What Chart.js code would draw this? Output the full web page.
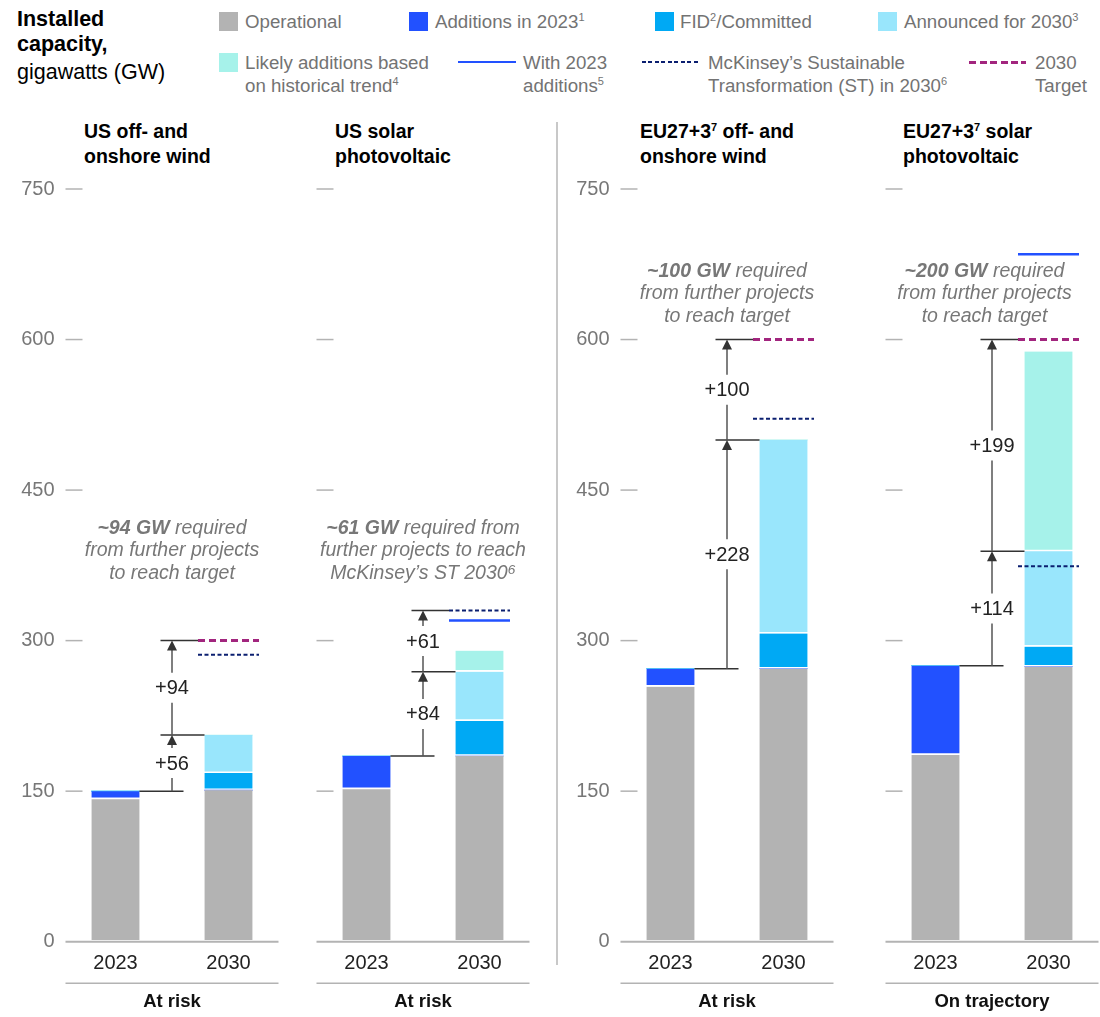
<!DOCTYPE html>
<html>
<head>
<meta charset="utf-8">
<script src="https://cdn.jsdelivr.net/npm/chart.js@4.4.1/dist/chart.umd.min.js"></script>
<style>
  html, body { margin: 0; padding: 0; background: #fff; overflow: hidden; }
  body { width: 1100px; height: 1017px; position: relative; font-family: "Liberation Sans", Arial, sans-serif; }
  .abs { position: absolute; white-space: nowrap; }
  .head { left: 17px; font-size: 21.5px; line-height: 26px; color: #000; }
  .lg { font-size: 18.7px; line-height: 23px; color: #737373; }
  .sw { position: absolute; width: 19px; height: 19px; }
  .ptitle { font-size: 19.5px; font-weight: bold; line-height: 25px; color: #000; }
  sup { font-size: 11px; vertical-align: 7px; line-height: 0; }
  canvas { position: absolute; top: 170px; }
  #sep { position: absolute; left: 556px; top: 122px; width: 2px; height: 843px; background: #c8c8c8; }
</style>
</head>
<body>
<div class="abs head" style="top:6px"><b>Installed</b></div>
<div class="abs head" style="top:31px"><b>capacity,</b></div>
<div class="abs head" style="top:59px">gigawatts (GW)</div>

<div class="sw" style="left:219px;top:11.5px;background:#b3b3b3"></div>
<div class="abs lg" style="left:245px;top:9.5px">Operational</div>
<div class="sw" style="left:409px;top:11.5px;background:#2251ff"></div>
<div class="abs lg" style="left:435px;top:9.5px">Additions in 2023<sup>1</sup></div>
<div class="sw" style="left:655px;top:11.5px;background:#00a9f4"></div>
<div class="abs lg" style="left:680px;top:9.5px">FID<sup>2</sup>/Committed</div>
<div class="sw" style="left:878px;top:11.5px;background:#99e6fc"></div>
<div class="abs lg" style="left:904px;top:9.5px">Announced for 2030<sup>3</sup></div>

<div class="sw" style="left:219px;top:52.5px;background:#a6f2ea"></div>
<div class="abs lg" style="left:245px;top:50.5px">Likely additions based<br>on historical trend<sup>4</sup></div>
<div class="abs" style="left:458px;top:60.5px;width:58px;height:2.5px;background:#2251ff"></div>
<div class="abs lg" style="left:523px;top:50.5px">With 2023<br>additions<sup>5</sup></div>
<div class="abs" style="left:642px;top:61px;width:58px;height:2px;background:repeating-linear-gradient(to right,#0b1f70 0 4px,transparent 4px 6.5px)"></div>
<div class="abs lg" style="left:708px;top:50.5px">McKinsey’s Sustainable<br>Transformation (ST) in 2030<sup>6</sup></div>
<div class="abs" style="left:969px;top:60.5px;width:57px;height:3px;background:repeating-linear-gradient(to right,#a2257e 0 7px,transparent 7px 10.5px)"></div>
<div class="abs lg" style="left:1035px;top:50.5px">2030<br>Target</div>

<div class="abs ptitle" style="left:84px;top:118.5px">US off- and<br>onshore wind</div>
<div class="abs ptitle" style="left:335px;top:118.5px">US solar<br>photovoltaic</div>
<div class="abs ptitle" style="left:640px;top:118.5px">EU27+3<sup>7</sup> off- and<br>onshore wind</div>
<div class="abs ptitle" style="left:903px;top:118.5px">EU27+3<sup>7</sup> solar<br>photovoltaic</div>
<div id="sep"></div>

<canvas id="p0" width="292" height="847"></canvas>
<canvas id="p1" width="292" height="847"></canvas>
<canvas id="p2" width="292" height="847"></canvas>
<canvas id="p3" width="292" height="847"></canvas>

<script>
// panels: US wind, US solar, EU27+3 wind, EU27+3 solar
const years = ['2023', '2030'];
const yTicks = [0, 150, 300, 450, 600, 750];
const statusLabels = ['At risk', 'At risk', 'At risk', 'On trajectory'];

// stacked segments per panel, [2023, 2030] in GW
const operational   = [[142, 151], [152, 185], [254, 272], [186, 274]];
const additions2023 = [[8, 0],     [33, 0],    [18, 0],    [89, 0]];
const fidCommitted  = [[0, 17],    [0, 35],    [0, 35],    [0, 20]];
const announced2030 = [[0, 38],    [0, 49],    [0, 193],   [0, 95]];
const likelyTrend   = [[0, 0],     [0, 21],    [0, 0],     [0, 199]];

// reference levels for 2030 (null = not shown)
const target2030        = [300, null, 600, 600];
const stScenario        = [286, 330, 521, 374];
const with2023Additions = [null, 320, null, 685];

// step arrows between the bars
const stepSteps  = [[56, 94], [84, 61], [228, 100], [114, 199]];
const stepLabels = [['+56', '+94'], ['+84', '+61'], ['+228', '+100'], ['+114', '+199']];

// italic call-outs
const noteBold = ['~94 GW', '~61 GW', '~100 GW', '~200 GW'];
const noteRest = [
  [' required', 'from further projects', 'to reach target'],
  [' required from', 'further projects to reach', 'McKinsey’s ST 2030⁶'],
  [' required', 'from further projects', 'to reach target'],
  [' required', 'from further projects', 'to reach target']
];

const COLORS = {
  operational: '#b3b3b3', additions: '#2251ff', fid: '#00a9f4',
  announced: '#99e6fc', likely: '#a6f2ea',
  target: '#a2257e', st: '#0b1f70', withAdd: '#2251ff'
};
const FONT = '"Liberation Sans", Arial, sans-serif';

// layout: centre of the 2023 bar in each panel, note placement
const firstBarX = [115, 366.5, 670.5, 935];
const noteTopValue = [412, 412, 668, 668];
const noteShift = [0, 0, 0, -7.5];
const showYLabels = [true, false, true, false];

function segment(label, values, color) {
  return {
    label: label,
    data: values,
    backgroundColor: color,
    borderColor: '#ffffff',
    borderWidth: { top: 0, left: 0, right: 0, bottom: 2 },
    borderSkipped: false,
    barThickness: 48
  };
}

function line(ctx, x1, y1, x2, y2, color, width, dash) {
  ctx.save();
  ctx.strokeStyle = color;
  ctx.lineWidth = width;
  ctx.setLineDash(dash || []);
  ctx.beginPath();
  ctx.moveTo(x1, y1);
  ctx.lineTo(x2, y2);
  ctx.stroke();
  ctx.restore();
}

function panelMarks(i) {
  return {
    id: 'panelMarks',
    afterDatasetsDraw(chart) {
      const ctx = chart.ctx;
      const xs = chart.scales.x, ys = chart.scales.y;
      const c1 = xs.getPixelForValue(0), c2 = xs.getPixelForValue(1);
      const mid = xs.getPixelForValue(0.5);
      const half = 24;
      const y0 = ys.getPixelForValue(0);

      // axis, tick marks and the rule under the year labels
      line(ctx, c1 - 50, y0, c2 + 50, y0, '#b3b3b3', 2);
      yTicks.forEach(v => {
        if (v === 0) return;
        const py = ys.getPixelForValue(v);
        line(ctx, c1 - 50, py, c1 - 33, py, '#b3b3b3', 1.5);
      });
      line(ctx, c1 - 50, y0 + 41.5, c2 + 50, y0 + 41.5, '#b3b3b3', 1.5);

      // 2030 reference lines
      if (target2030[i] !== null) {
        const py = ys.getPixelForValue(target2030[i]);
        line(ctx, c2 - 30.5, py, c2 + 30.5, py, COLORS.target, 3, [7, 4]);
      }
      if (stScenario[i] !== null) {
        const py = ys.getPixelForValue(stScenario[i]);
        line(ctx, c2 - 30.5, py, c2 + 30.5, py, COLORS.st, 2, [4, 2.5]);
      }
      if (with2023Additions[i] !== null) {
        const py = ys.getPixelForValue(with2023Additions[i]);
        line(ctx, c2 - 30.5, py, c2 + 30.5, py, COLORS.withAdd, 2.5);
      }

      // step arrows
      const base = operational[i][0] + additions2023[i][0];
      const levels = [base, base + stepSteps[i][0]];
      levels.push(target2030[i] !== null ? target2030[i] : levels[1] + stepSteps[i][1]);
      const by = ys.getPixelForValue(base);
      line(ctx, c1 + half, by, mid + 11.5, by, '#333', 1.5);

      ctx.font = '20px ' + FONT;
      ctx.textAlign = 'center';
      ctx.textBaseline = 'middle';
      for (let k = 0; k < 2; k++) {
        const yA = ys.getPixelForValue(levels[k]);
        const yB = ys.getPixelForValue(levels[k + 1]);
        const isTop = k === 1;
        const bracketEnd = (isTop && (target2030[i] !== null || stScenario[i] === levels[2])) ? c2 - 30.5 : c2 - half;
        line(ctx, mid - 11.5, yB, bracketEnd, yB, '#333', 1.5);
        const ym = (yA + yB) / 2;
        line(ctx, mid, yA, mid, ym + 15, '#555', 1.5);
        line(ctx, mid, ym - 15, mid, yB + 9, '#555', 1.5);
        ctx.fillStyle = '#333';
        ctx.beginPath();
        ctx.moveTo(mid, yB);
        ctx.lineTo(mid - 5, yB + 10);
        ctx.lineTo(mid + 5, yB + 10);
        ctx.closePath();
        ctx.fill();
        ctx.fillStyle = '#222';
        ctx.fillText(stepLabels[i][k], mid, ym + 1);
      }

      // call-out text
      const nx = mid + noteShift[i];
      let ny = ys.getPixelForValue(noteTopValue[i]);
      ctx.fillStyle = '#777';
      const boldFont = 'italic bold 19.5px ' + FONT;
      const normFont = 'italic 19.5px ' + FONT;
      ctx.font = boldFont;
      const wb = ctx.measureText(noteBold[i]).width;
      ctx.font = normFont;
      const wr = ctx.measureText(noteRest[i][0]).width;
      const sx = nx - (wb + wr) / 2;
      ctx.textAlign = 'left';
      ctx.font = boldFont;
      ctx.fillText(noteBold[i], sx, ny);
      ctx.font = normFont;
      ctx.fillText(noteRest[i][0], sx + wb, ny);
      ctx.textAlign = 'center';
      for (let k = 1; k < noteRest[i].length; k++) {
        ny += 22.5;
        ctx.fillText(noteRest[i][k], nx, ny);
      }
    }
  };
}

for (let i = 0; i < 4; i++) {
  const cv = document.getElementById('p' + i);
  cv.style.left = (firstBarX[i] - 112.5) + 'px';
  new Chart(cv, {
    type: 'bar',
    data: {
      labels: years,
      datasets: [
        segment('Operational', operational[i], COLORS.operational),
        segment('Additions in 2023', additions2023[i], COLORS.additions),
        segment('FID/Committed', fidCommitted[i], COLORS.fid),
        segment('Announced for 2030', announced2030[i], COLORS.announced),
        segment('Likely additions based on historical trend', likelyTrend[i], COLORS.likely)
      ]
    },
    options: {
      responsive: false,
      animation: false,
      layout: { padding: { top: 19, right: 10, left: 0, bottom: 0 } },
      plugins: { legend: { display: false }, tooltip: { enabled: false } },
      scales: {
        x: {
          stacked: true,
          grid: { display: false, drawTicks: false },
          border: { display: false },
          ticks: { color: '#222', font: { size: 20, family: FONT }, padding: 9.5 },
          title: {
            display: true, text: statusLabels[i], color: '#111',
            font: { size: 18.5, weight: 'bold', family: FONT },
            padding: { top: 0, bottom: 4 }
          },
          afterFit: s => { s.height = 75.3; }
        },
        y: {
          stacked: true,
          min: 0,
          max: 750,
          afterBuildTicks: s => { s.ticks = yTicks.map(v => ({ value: v })); },
          grid: { display: false, drawTicks: false },
          border: { display: false },
          ticks: { display: showYLabels[i], color: '#777', font: { size: 20, family: FONT }, padding: 4.5 },
          afterFit: s => { s.width = 56; }
        }
      }
    },
    plugins: [panelMarks(i)]
  });
}
</script>
</body>
</html>
